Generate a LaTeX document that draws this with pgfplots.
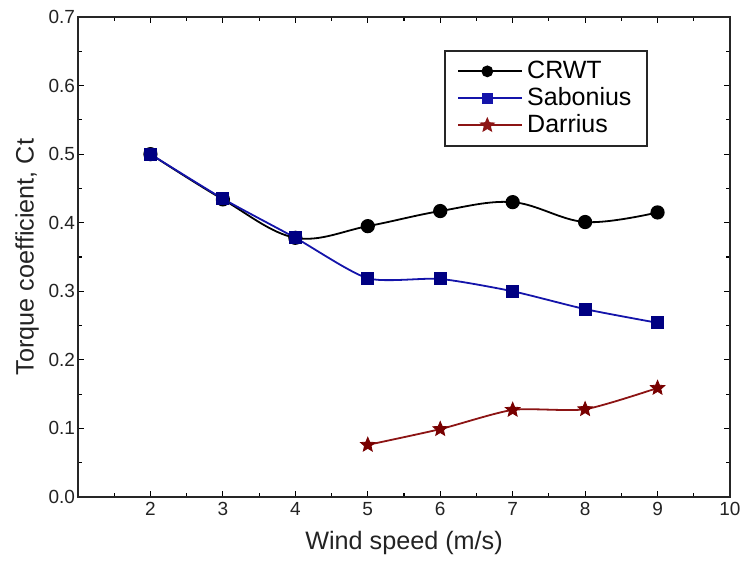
\documentclass[border=0pt]{standalone}
\usepackage{pgfplots}
\pgfplotsset{compat=1.18}
\usepackage{fontspec}
\setmainfont{Liberation Sans}
\usetikzlibrary{plotmarks}

\definecolor{crwt}{RGB}{0,0,0}
\definecolor{sabline}{RGB}{20,20,170}
\definecolor{sabmark}{RGB}{0,0,130}
\definecolor{darline}{RGB}{140,20,20}
\definecolor{darmark}{RGB}{120,0,0}
\definecolor{ticktext}{RGB}{35,35,35}

% filled five-pointed star
\pgfdeclareplotmark{fstar}{%
  \pgfpathmoveto{\pgfpointpolar{90}{1.0\pgfplotmarksize}}%
  \pgfpathlineto{\pgfpointpolar{126}{0.45\pgfplotmarksize}}%
  \pgfpathlineto{\pgfpointpolar{162}{1.0\pgfplotmarksize}}%
  \pgfpathlineto{\pgfpointpolar{198}{0.45\pgfplotmarksize}}%
  \pgfpathlineto{\pgfpointpolar{234}{1.0\pgfplotmarksize}}%
  \pgfpathlineto{\pgfpointpolar{270}{0.45\pgfplotmarksize}}%
  \pgfpathlineto{\pgfpointpolar{306}{1.0\pgfplotmarksize}}%
  \pgfpathlineto{\pgfpointpolar{342}{0.45\pgfplotmarksize}}%
  \pgfpathlineto{\pgfpointpolar{18}{1.0\pgfplotmarksize}}%
  \pgfpathlineto{\pgfpointpolar{54}{0.45\pgfplotmarksize}}%
  \pgfpathclose
  \pgfusepathqfillstroke
}

\begin{document}
\begin{tikzpicture}
\begin{axis}[
  name=ax,
  scale only axis,
  width=326pt, height=240pt,
  xmin=1, xmax=10, ymin=0, ymax=0.7,
  xtick={1,...,10},
  xticklabels={,2,3,4,5,6,7,8,9,10},
  ytick={0,0.1,...,0.7},
  minor x tick num=1,
  minor y tick num=1,
  tick align=inside,
  major tick length=3pt,
  minor tick length=2pt,
  tick style={black, line width=0.6pt},
  axis line style={line width=1.2pt, black!85},
  yticklabel style={/pgf/number format/.cd, fixed, fixed zerofill, precision=1, /tikz/.cd},
  /pgf/number format/assume math mode=true,
  ticklabel style={font=\fontsize{9.5}{11}\selectfont, text=ticktext},
  xticklabel style={yshift=1pt},
  yticklabel style={xshift=2pt},
  xlabel={Wind speed (m/s)},
  ylabel={Torque coefficient, Ct},
  label style={font=\fontsize{12.6}{14}\selectfont, text=ticktext},
  xlabel style={yshift=-1pt},
  ylabel style={yshift=-2pt},
  legend style={at={(0.562,0.931)}, anchor=north west,
    draw=black!85, line width=1pt,
    font=\fontsize{12.5}{15}\selectfont,
    row sep=-1pt, inner xsep=6pt, inner ysep=3pt},
  legend cell align=left,
  legend image code/.code={
    \path (0pt,0pt) -- (32pt,0pt);
    \draw[#1, line width=0.8pt] (0pt,0pt) -- (29pt,0pt);
    \draw[#1, only marks, mark options={scale=0.8}] plot coordinates {(14.5pt,0pt)};
  },
]
\addplot[crwt, line width=0.9pt, smooth, tension=0.6,
  mark=*, mark size=3.1pt, mark options={solid, fill=black}]
  coordinates {(2,0.500) (3,0.434) (4,0.378) (5,0.395) (6,0.417) (7,0.430) (8,0.401) (9,0.415)};
\addlegendentry{CRWT}

\addplot[sabline, line width=0.9pt, smooth, tension=0.4,
  mark=square*, mark size=2.8pt, mark options={solid, draw=sabmark, fill=sabmark}]
  coordinates {(2,0.500) (3,0.435) (4,0.378) (5,0.319) (6,0.318) (7,0.300) (8,0.274) (9,0.254)};
\addlegendentry{Sabonius}

\addplot[darline, line width=0.9pt, smooth, tension=0.4,
  mark=fstar, mark size=3.8pt, mark options={solid, draw=darmark, fill=darmark, line width=0.4pt}]
  coordinates {(5,0.076) (6,0.099) (7,0.127) (8,0.128) (9,0.159)};
\addlegendentry{Darrius}
\end{axis}
\pgfresetboundingbox
\path (ax.south west) ++(-39pt,-32pt) coordinate (bbsw);
\path (ax.north east) ++(5.5pt,8.5pt) coordinate (bbne);
\path[use as bounding box] (bbsw) rectangle (bbne);
\end{tikzpicture}
\end{document}
